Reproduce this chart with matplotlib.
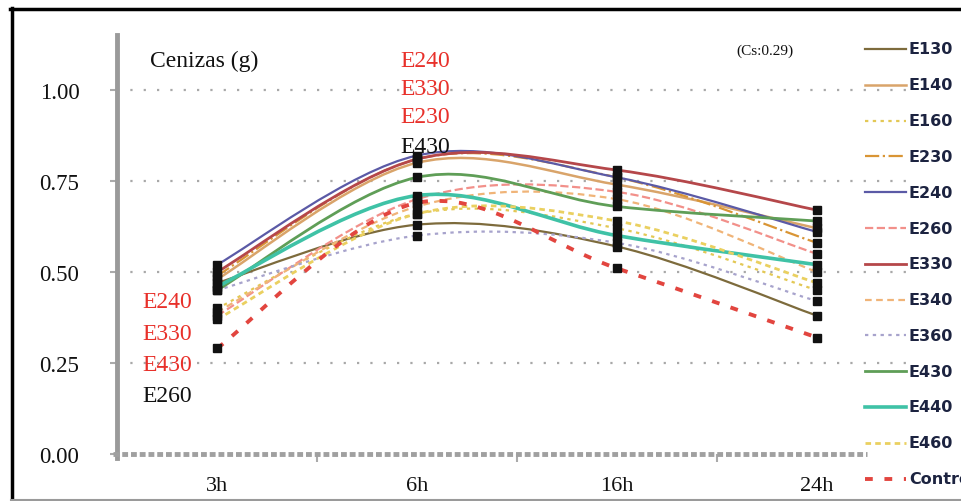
import matplotlib
matplotlib.use("Agg")
import matplotlib.pyplot as plt
from matplotlib.path import Path
from matplotlib.patches import PathPatch
from matplotlib.lines import Line2D
import numpy as np

# ---------------- data ----------------
times = ["3h", "6h", "16h", "24h"]
names = ["E130", "E140", "E160", "E230", "E240", "E260", "E330",
         "E340", "E360", "E430", "E440", "E460", "Control"]
E130 = [0.47, 0.63, 0.57, 0.38]
E140 = [0.48, 0.80, 0.74, 0.62]
E160 = [0.40, 0.66, 0.62, 0.45]
E230 = [0.49, 0.81, 0.76, 0.58]
E240 = [0.52, 0.82, 0.76, 0.61]
E260 = [0.38, 0.70, 0.72, 0.55]
E330 = [0.50, 0.81, 0.78, 0.67]
E340 = [0.39, 0.68, 0.70, 0.50]
E360 = [0.45, 0.60, 0.58, 0.42]
E430 = [0.45, 0.76, 0.68, 0.64]
E440 = [0.46, 0.71, 0.60, 0.52]
E460 = [0.37, 0.66, 0.64, 0.47]
Control = [0.29, 0.69, 0.51, 0.32]
series = [E130, E140, E160, E230, E240, E260, E330,
          E340, E360, E430, E440, E460, Control]
yticks = [0.00, 0.25, 0.50, 0.75, 1.00]
ytick_labels = ["0.00", "0.25", "0.50", "0.75", "1.00"]
top_labels = ["E240", "E330", "E230", "E430"]
top_colors = ["#e8302a", "#e8302a", "#e8302a", "#111111"]
left_labels = ["E240", "E330", "E430", "E260"]
left_colors = ["#e8302a", "#e8302a", "#e8302a", "#111111"]

# ---------------- styles ----------------
styles = [
    dict(color="#7d6b3c", ls="-", lw=1.6),
    dict(color="#d9a46a", ls="-", lw=1.8),
    dict(color="#e3c855", ls=(0, (1.5, 2)), lw=1.6),
    dict(color="#d99535", ls="-.", lw=1.6),
    dict(color="#5b5aa6", ls="-", lw=1.6),
    dict(color="#f2908a", ls="--", lw=1.6),
    dict(color="#b5474a", ls="-", lw=2.0),
    dict(color="#f0b478", ls=(0, (3, 2)), lw=1.6),
    dict(color="#a7a3cc", ls=(0, (1.5, 2)), lw=1.6),
    dict(color="#5f9e57", ls="-", lw=2.0),
    dict(color="#3fc2a6", ls="-", lw=2.6),
    dict(color="#ead060", ls=(0, (2, 1.5)), lw=2.0),
    dict(color="#e2453f", ls=(0, (2, 3)), lw=2.8),
]

W, H = 961, 502
fig = plt.figure(figsize=(W / 100, H / 100), dpi=100)
fig.patch.set_facecolor("white")

def fx(px):
    return px / W

def fy(py):
    return 1 - py / H

ax_left, ax_right = 117, 917
ax_bottom_px = 455
ymax = 1.15
ax_top_px = ax_bottom_px - 364 * ymax
ax = fig.add_axes([fx(ax_left), fy(ax_bottom_px), (ax_right - ax_left) / W,
                   (ax_bottom_px - ax_top_px) / H])
ax.set_xlim(-0.5, 3.5)
ax.set_ylim(0, ymax)
ax.patch.set_alpha(0)

serif = "Liberation Serif"

# grid
for yv in yticks[1:]:
    ax.axhline(yv, color="#a8a8a8", lw=1.6, ls=(0, (1, 5)), zorder=0)

# smoothed curves (Excel-like Bezier through data points)
x = np.arange(len(times), dtype=float)
for vals, st in zip(series, styles):
    pts = np.column_stack([x, np.asarray(vals, dtype=float)])
    n = len(pts)
    verts = [tuple(pts[0])]
    codes = [Path.MOVETO]
    for i in range(n - 1):
        p0 = pts[max(i - 1, 0)]
        p1 = pts[i]
        p2 = pts[i + 1]
        p3 = pts[min(i + 2, n - 1)]
        c1 = p1 + (p2 - p0) / 6.0
        c2 = p2 - (p3 - p1) / 6.0
        verts += [tuple(c1), tuple(c2), tuple(p2)]
        codes += [Path.CURVE4] * 3
    patch = PathPatch(Path(verts, codes), fill=False, edgecolor=st["color"],
                      lw=st["lw"], linestyle=st["ls"], zorder=2,
                      capstyle="butt")
    ax.add_patch(patch)

# black point markers
for vals in series:
    ax.plot(x, vals, ls="none", marker="s", ms=5.2, color="#111111",
            zorder=4)

# spines
for s in ["top", "right"]:
    ax.spines[s].set_visible(False)
ax.spines["left"].set_color("#9a9a9a")
ax.spines["left"].set_linewidth(3.5)
ax.spines["left"].set_bounds(-0.012, ymax)
ax.spines["bottom"].set_visible(False)
ax.plot([-0.52, 3.25], [0, 0], color="#a0a0a0", lw=3.5,
        ls=(0, (1.2, 0.6)), zorder=3, clip_on=False)

ax.set_yticks(yticks)
ax.set_yticklabels(ytick_labels, fontfamily=serif, fontsize=16.5,
                   color="#111111")
ax.tick_params(axis="y", length=5, width=1.5, color="#aaaaaa", pad=22)
ax.set_xticks(x)
ax.set_xticklabels(times, fontfamily=serif, fontsize=16, color="#111111")
ax.tick_params(axis="x", length=0, pad=16)
ax.set_xticks([0.5, 1.5, 2.5], minor=True)
ax.tick_params(axis="x", which="minor", length=6, width=1.5,
               color="#aaaaaa")

# texts
ax.text(-0.335, 1.082, "Cenizas (g)", fontfamily=serif, fontsize=17,
        ha="left", va="center", color="#111111")
ax.text(2.74, 1.11, "(Cs:0.29)", fontfamily=serif, fontsize=11,
        ha="center", va="center", color="#111111")
top_y = [1.082, 1.003, 0.926, 0.846]
for lab, c, yv in zip(top_labels, top_colors, top_y):
    ax.text(1.04, yv, lab, fontfamily=serif, fontsize=17, ha="center",
            va="center", color=c, zorder=5)
left_y = [0.418, 0.332, 0.247, 0.162]
for lab, c, yv in zip(left_labels, left_colors, left_y):
    ax.text(-0.25, yv, lab, fontfamily=serif, fontsize=17, ha="center",
            va="center", color=c, zorder=5)

# legend (manual, rows spaced in pixels)
for i, (name, st) in enumerate(zip(names, styles)):
    py = 50 + 35.8 * i
    fig.add_artist(Line2D([fx(865), fx(906)], [fy(py), fy(py)],
                          transform=fig.transFigure, color=st["color"],
                          lw=st["lw"], linestyle=st["ls"]))
    fig.text(fx(909), fy(py), name, fontfamily="DejaVu Sans",
             fontweight="bold", fontsize=11.5, color="#1c2340",
             ha="left", va="center")

# outer frame
fig.add_artist(Line2D([fx(11.5), fx(11.5)], [fy(9), fy(502)],
                      transform=fig.transFigure, color="black", lw=2.5))
fig.add_artist(Line2D([fx(10), fx(961)], [fy(10), fy(10)],
                      transform=fig.transFigure, color="black", lw=2.5))
fig.add_artist(Line2D([fx(11), fx(961)], [fy(500.5), fy(500.5)],
                      transform=fig.transFigure, color="#9a9a9a", lw=1.5))

fig.savefig("out.png", dpi=100, facecolor="white")
